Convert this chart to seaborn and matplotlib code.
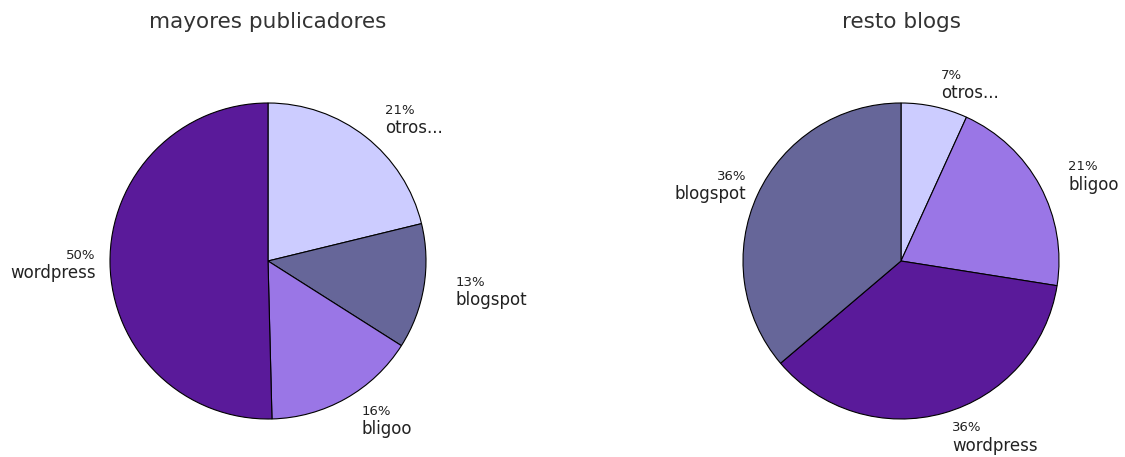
import matplotlib
matplotlib.use("Agg")
import matplotlib.pyplot as plt
import seaborn as sns
import numpy as np

# Data (percent shares, clockwise from 12 o'clock)
left_title = "mayores publicadores"
left_labels = ["otros...", "blogspot", "bligoo", "wordpress"]
left_values = [21.2, 12.8, 15.6, 50.4]

right_title = "resto blogs"
right_labels = ["otros...", "bligoo", "wordpress", "blogspot"]
right_values = [6.8, 20.7, 36.3, 36.2]

palette = {
    "otros...": "#ccccff",
    "blogspot": "#666699",
    "bligoo": "#9a76e6",
    "wordpress": "#5a1a9a",
}

sns.set_theme(style="white")
plt.rcParams['font.family'] = ['DejaVu Sans']

W, H = 1125, 457
fig = plt.figure(figsize=(W / 100, H / 100), dpi=100)

R_PX = 158   # pie radius in pixels
L = 1.45     # axes half-extent in pie radii


def draw_pie(cx, cy, labels, values, title):
    side = 2 * L * R_PX
    ax = fig.add_axes([(cx - side / 2) / W, 1 - (cy + side / 2) / H, side / W, side / H])
    wedges, _ = ax.pie(
        values,
        colors=[palette[l] for l in labels],
        startangle=90,
        counterclock=False,
        wedgeprops=dict(edgecolor="black", linewidth=0.8),
    )
    ax.set_xlim(-L, L)
    ax.set_ylim(-L, L)
    ax.set_aspect("equal")
    ax.axis("off")

    total = sum(values)
    for w, lab, v in zip(wedges, labels, values):
        mid = np.deg2rad((w.theta1 + w.theta2) / 2)
        x, y = 1.2 * np.cos(mid), 1.15 * np.sin(mid)
        ha = "left" if x >= 0 else "right"
        if x < 0:
            x += 0.11
        ax.text(x, y + 0.01, f"{round(v / total * 100):.0f}%", ha=ha, va="bottom",
                fontsize=9.5, color="#222222", clip_on=False)
        ax.text(x, y - 0.005, lab, ha=ha, va="top", fontsize=12,
                color="#222222", clip_on=False)

    fig.text(cx / W, 1 - 22 / H, title, ha="center", va="center",
             fontsize=15.5, color="#333333")


draw_pie(268, 261, left_labels, left_values, left_title)
draw_pie(901, 261, right_labels, right_values, right_title)

fig.savefig("out.png", dpi=100, facecolor="white")
